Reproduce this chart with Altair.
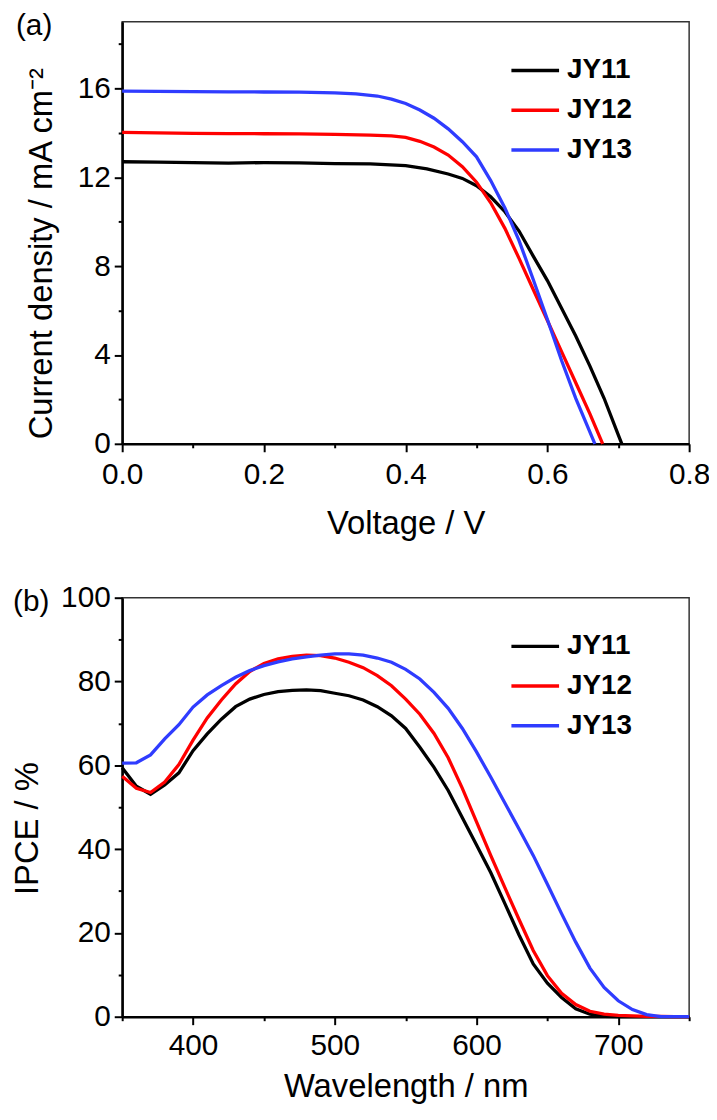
import altair as alt
import pandas as pd

FONT = "Liberation Sans"

series = ["JY11", "JY12", "JY13"]
colors = ["#000000", "#ff0000", "#2f3cff"]

# ---- (a) J-V curves ----
v_jy11 = [0, 0.05, 0.1, 0.15, 0.2, 0.25, 0.3, 0.35, 0.4, 0.43, 0.46, 0.48, 0.5, 0.52,
          0.54, 0.56, 0.58, 0.6, 0.62, 0.64, 0.66, 0.68, 0.7, 0.705]
j_jy11 = [12.70, 12.68, 12.66, 12.64, 12.66, 12.65, 12.62, 12.60, 12.52, 12.38, 12.15,
          11.95, 11.62, 11.12, 10.45, 9.58, 8.45, 7.35, 6.10, 4.85, 3.50, 2.05, 0.40, 0.0]

v_jy12 = [0, 0.05, 0.1, 0.15, 0.2, 0.25, 0.3, 0.35, 0.38, 0.4, 0.42, 0.44, 0.46, 0.48,
          0.5, 0.52, 0.54, 0.56, 0.58, 0.6, 0.62, 0.64, 0.66, 0.678]
j_jy12 = [14.02, 14.00, 13.98, 13.97, 13.96, 13.95, 13.93, 13.90, 13.86, 13.80, 13.62,
          13.36, 13.00, 12.48, 11.78, 10.85, 9.70, 8.35, 6.95, 5.55, 4.15, 2.75, 1.35, 0.0]

v_jy13 = [0, 0.05, 0.1, 0.15, 0.2, 0.25, 0.3, 0.33, 0.36, 0.38, 0.4, 0.42, 0.44, 0.46,
          0.48, 0.5, 0.52, 0.54, 0.56, 0.58, 0.6, 0.62, 0.64, 0.667]
j_jy13 = [15.88, 15.87, 15.86, 15.85, 15.84, 15.83, 15.80, 15.76, 15.66, 15.52, 15.32,
          15.03, 14.66, 14.18, 13.60, 12.92, 11.85, 10.62, 9.15, 7.40, 5.60, 3.75, 2.05, 0.0]

# ---- (b) IPCE spectra ----
wavelength = list(range(350, 751, 10))
ipce_jy11 = [59.4, 55.0, 53.1, 55.3, 58.2, 63.5, 67.5, 71.0, 74.0, 75.8, 76.9, 77.6, 77.9,
             78.0, 77.8, 77.2, 76.6, 75.6, 74.0, 71.8, 68.8, 64.3, 59.5, 54.0, 47.5, 41.0,
             34.4, 27.0, 19.5, 12.6, 8.0, 4.6, 1.9, 0.6, 0.1, 0, 0, 0, 0, 0, 0]
ipce_jy12 = [57.4, 54.5, 53.5, 56.0, 60.2, 66.0, 71.3, 75.6, 79.4, 82.4, 84.3, 85.4, 86.0,
             86.3, 86.2, 85.6, 84.6, 83.3, 81.4, 79.0, 75.8, 72.2, 67.6, 61.8, 54.5, 46.5,
             38.5, 30.8, 23.2, 15.8, 9.8, 5.6, 2.9, 1.3, 0.6, 0.3, 0.2, 0.1, 0.1, 0, 0]
ipce_jy13 = [60.5, 60.6, 62.5, 66.3, 69.7, 73.9, 76.8, 79.0, 81.0, 82.6, 83.8, 84.7, 85.4,
             85.9, 86.3, 86.6, 86.6, 86.3, 85.6, 84.6, 82.9, 80.6, 77.4, 73.6, 68.8, 63.2,
             57.2, 51.0, 44.8, 38.5, 31.6, 24.6, 17.8, 11.6, 7.0, 3.8, 1.7, 0.5, 0, 0, 0]

jv_rows = []
for name, vs, js in zip(series, [v_jy11, v_jy12, v_jy13], [j_jy11, j_jy12, j_jy13]):
    for v, j in zip(vs, js):
        jv_rows.append({"series": name, "V": v, "J": j})
jv = pd.DataFrame(jv_rows)

ipce_rows = []
for name, vals in zip(series, [ipce_jy11, ipce_jy12, ipce_jy13]):
    for w, val in zip(wavelength, vals):
        ipce_rows.append({"series": name, "wl": w, "ipce": val})
ipce = pd.DataFrame(ipce_rows)


def make_axis(values, minor_test, title, label_pad, fmt, **kw):
    return alt.Axis(
        values=values, title=title, grid=False, format=fmt,
        labelExpr=f"({minor_test}) ? '' : datum.label",
        tickSize={"condition": {"test": minor_test, "value": 4}, "value": 8},
        tickWidth=2, tickColor="black", domainColor="black", domainWidth=2.5,
        labelFont=FONT, labelFontSize=30, labelColor="black", labelPadding=label_pad,
        labelFlush=False, labelOverlap=False,
        titleFont=FONT, titleFontSize=33, titleFontWeight="normal", titleColor="black",
        **kw)


def make_color(lx, ly):
    return alt.Color(
        "series:N", scale=alt.Scale(domain=series, range=colors),
        legend=alt.Legend(
            title=None, orient="none", legendX=lx, legendY=ly,
            symbolType="M-2,0H2", symbolSize=576, symbolStrokeWidth=3.5,
            labelFont=FONT, labelFontSize=28, labelFontWeight="bold", labelColor="black",
            labelOffset=18, rowPadding=12, padding=0))


panel_a = alt.Chart(jv).mark_line(strokeWidth=3.3).encode(
    x=alt.X("V:Q", scale=alt.Scale(domain=[0, 0.8], nice=False, zero=False),
            axis=make_axis([round(i * 0.1, 1) for i in range(9)],
                           "round(datum.value*10) % 2 == 1", "Voltage / V", 8, ".1f",
                           titleBaseline="alphabetic", titleY=90)),
    y=alt.Y("J:Q", scale=alt.Scale(domain=[0, 19], nice=False),
            axis=make_axis(list(range(0, 19, 2)), "datum.value % 4 != 0",
                           "Current density / mA cm\u207b\u00b2", 4, "d",
                           titlePadding=19, titleY=233)),
    color=make_color(402, 35),
).properties(
    width=571, height=425,
    title=alt.TitleParams("(a)", anchor="start", frame="group", orient="top", offset=0,
                          dx=-107, dy=43, font=FONT, fontSize=30, fontWeight="normal",
                          color="black", baseline="alphabetic"),
)

panel_b = alt.Chart(ipce).mark_line(strokeWidth=3.3).encode(
    x=alt.X("wl:Q", scale=alt.Scale(domain=[350, 750], nice=False, zero=False),
            axis=make_axis(list(range(350, 751, 50)), "datum.value % 100 != 0",
                           "Wavelength / nm", 6, "d",
                           titleBaseline="alphabetic", titleY=80)),
    y=alt.Y("ipce:Q", scale=alt.Scale(domain=[0, 100], nice=False),
            axis=make_axis(list(range(0, 101, 10)), "datum.value % 20 != 0",
                           "IPCE / %", 4, "d", titlePadding=16, titleY=232)),
    color=make_color(402, 35),
).properties(
    width=571, height=422,
    title=alt.TitleParams("(b)", anchor="start", frame="group", orient="top", offset=0,
                          dx=-110, dy=58, font=FONT, fontSize=30, fontWeight="normal",
                          color="black", baseline="alphabetic"),
)

chart = alt.vconcat(panel_a, panel_b, spacing=155, bounds="flush").resolve_legend(
    color="independent"
).resolve_scale(
    color="independent"
).properties(
    autosize=alt.AutoSizeParams(type="none"),
    padding={"left": 115, "top": 10, "right": 20, "bottom": 1088},
    background="white",
).configure_view(
    stroke="#333333", strokeWidth=1.5
)

chart.save("out.html", embed_options={"renderer": "svg", "actions": False})
